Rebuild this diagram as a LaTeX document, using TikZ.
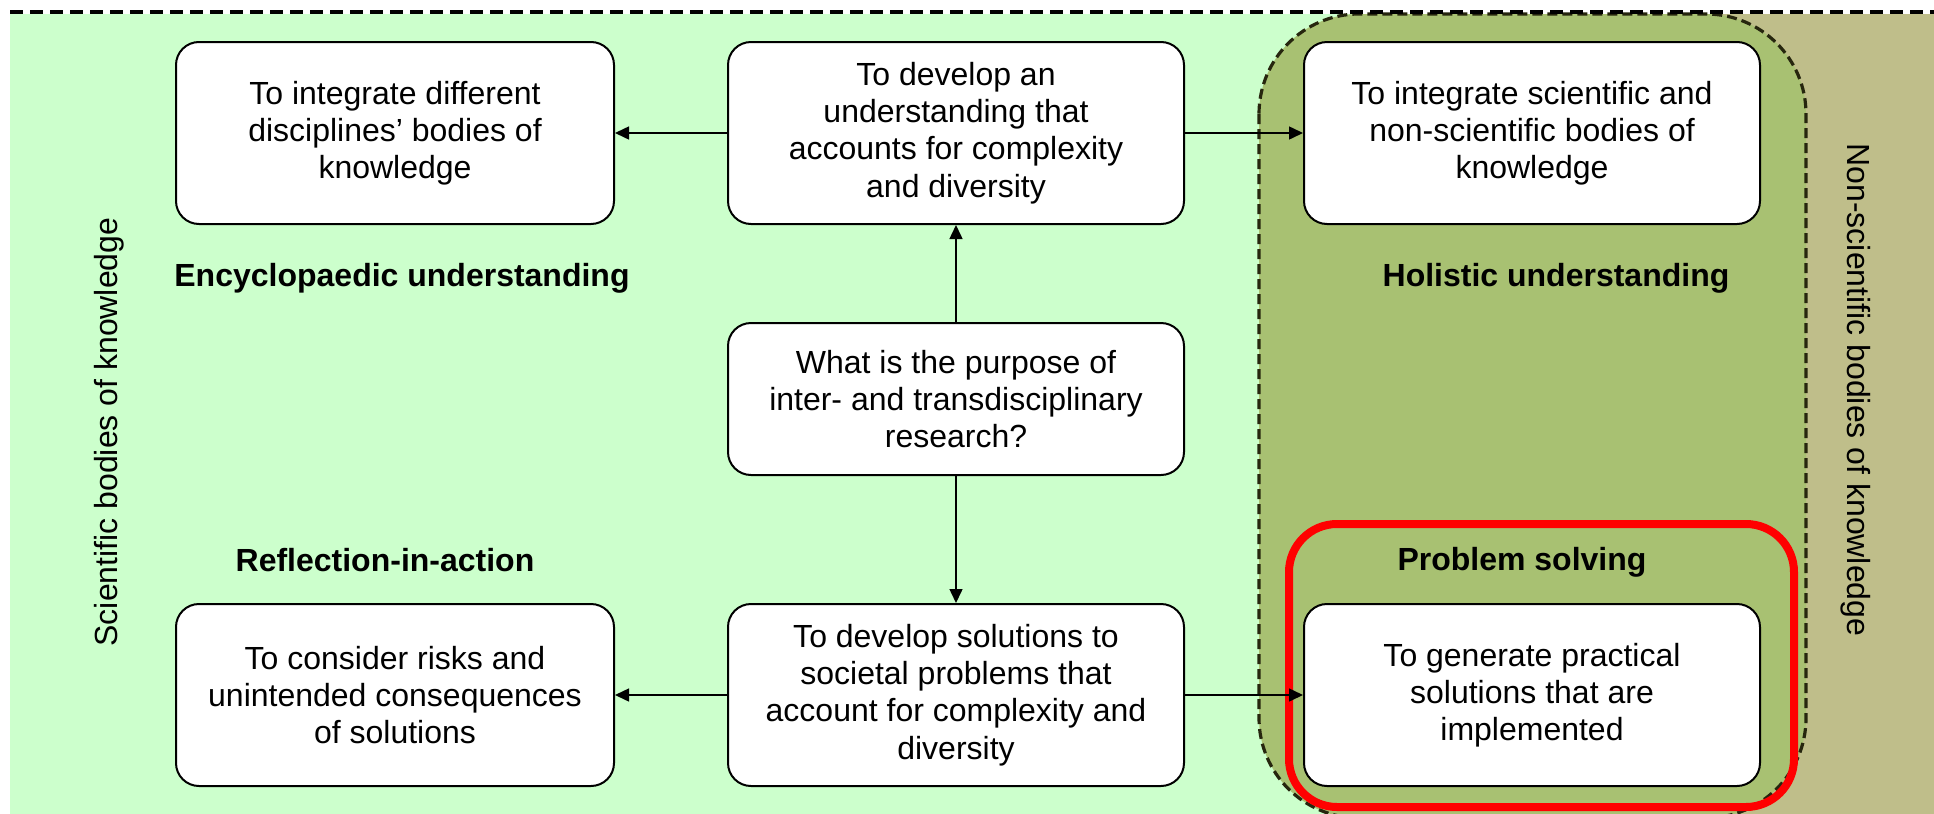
\documentclass[tikz,border=0pt]{standalone}
\usepackage{fontspec}
\setmainfont{Liberation Sans}
\usetikzlibrary{arrows.meta}
\definecolor{bglight}{HTML}{CCFFCC}
\definecolor{bgmid}{HTML}{A8C172}
\definecolor{bgolive}{HTML}{BFBE8A}
\definecolor{dashcol}{HTML}{26260E}
\begin{document}
\begin{tikzpicture}[x=0.5pt,y=-0.5pt,
  box/.style={draw=black, line width=1pt, fill=white, rounded corners=11.5pt, align=center, inner sep=0pt,
    font=\fontsize{16}{18.6}\selectfont},
  lab/.style={font=\bfseries\fontsize{16}{18.6}\selectfont},
  side/.style={font=\fontsize{16}{18.6}\selectfont},
  arr/.style={line width=0.75pt, -{Triangle[length=7pt,width=6.5pt]}},
]
\useasboundingbox (0,0) rectangle (1934,814);
\fill[white] (0,0) rectangle (1934,814);
\fill[bglight] (10,14) rectangle (1934,814);
\fill[bgolive] (1540,14) rectangle (1934,814);
\begin{scope}
  \clip (0,0) rectangle (1934,814);
  \draw[fill=bgmid, draw=dashcol, line width=1.6pt, dash pattern=on 5pt off 2.5pt, rounded corners=50pt]
    (1259,14) rectangle (1806,818);
\end{scope}
\draw[line width=1.6pt, dash pattern=on 6.5pt off 3.5pt] (10,12) -- (1934,12);
\draw[red, line width=4pt, rounded corners=24pt] (1289,524) rectangle (1794,807);

\node[box, minimum width=219pt, minimum height=91pt] (b1) at (395,133)
  {To integrate different\\disciplines’ bodies of\\knowledge};
\node[box, minimum width=228pt, minimum height=91pt] (b2) at (956,133)
  {To develop an\\understanding that\\accounts for complexity\\and diversity};
\node[box, minimum width=228pt, minimum height=91pt] (b3) at (1532,133)
  {To integrate scientific and\\non-scientific bodies of\\knowledge};
\node[box, minimum width=228pt, minimum height=76pt] (b4) at (956,399)
  {What is the purpose of\\inter- and transdisciplinary\\research?};
\node[box, minimum width=219pt, minimum height=91pt] (b5) at (395,695)
  {To consider risks and\\unintended consequences\\of solutions};
\node[box, minimum width=228pt, minimum height=91pt] (b6) at (956,695)
  {To develop solutions to\\societal problems that\\account for complexity and\\diversity};
\node[box, minimum width=228pt, minimum height=91pt] (b7) at (1532,695)
  {To generate practical\\solutions that are\\implemented};

\node[lab] (l1) at (402,278) {Encyclopaedic understanding};
\node[lab] (l2) at (1556,278) {Holistic understanding};
\node[lab] (l3) at (385,560) {Reflection-in-action};
\node[lab] (l4) at (1522,562) {Problem solving};

\node[side, rotate=90] (s1) at (109,432) {Scientific bodies of knowledge};
\node[side, rotate=-90] (s2) at (1856,390) {Non-scientific bodies of knowledge};

\draw[arr] (b2.west) -- (b1.east);
\draw[arr] (b2.east) -- (b3.west);
\draw[arr] (b4.north) -- (b2.south);
\draw[arr] (b4.south) -- (b6.north);
\draw[arr] (b6.west) -- (b5.east);
\draw[arr] (b6.east) -- (b7.west);
\end{tikzpicture}
\end{document}
